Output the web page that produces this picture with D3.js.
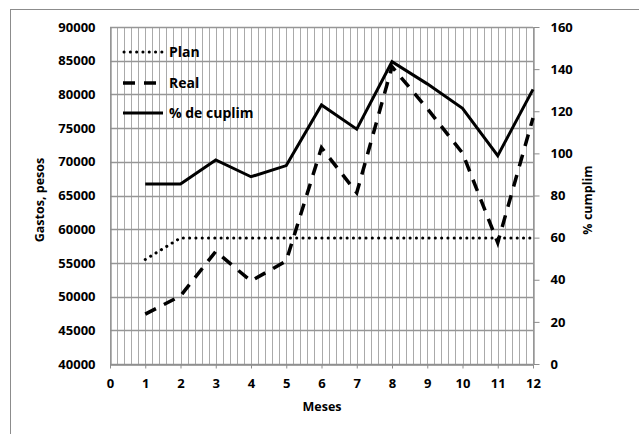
<!DOCTYPE html>
<html><head><meta charset="utf-8">
<script src="https://cdn.jsdelivr.net/npm/d3@7/dist/d3.min.js"></script>
<style>
html,body{margin:0;padding:0;background:#fff;}
svg text{font-family:"Open Sans",sans-serif;font-weight:700;fill:#000;}
</style></head>
<body><svg id="c" width="639" height="434"></svg>
<script>
const months = [1,2,3,4,5,6,7,8,9,10,11,12];
const plan = [55500,58700,58700,58700,58700,58700,58700,58700,58700,58700,58700,58700];
const real = [47400,50100,56700,52300,55300,72100,65400,84100,77900,71300,58000,76500];
const cumplim = [85.5,85.5,96.9,88.9,94.2,123.0,111.5,143.5,133.0,121.4,98.9,130.4];
const leftTicks = [40000,45000,50000,55000,60000,65000,70000,75000,80000,85000,90000];
const rightTicks = [0,20,40,60,80,100,120,140,160];
const xTicks = [0,1,2,3,4,5,6,7,8,9,10,11,12];
const legendNames = ["Plan","Real","% de cuplim"];

const svg = d3.select("#c");
const L=110, R=533, T=27, B=364;
const x = d3.scaleLinear().domain([0,12]).range([L,R]);
const yL = d3.scaleLinear().domain([40000,90000]).range([B,T]);
const yR = d3.scaleLinear().domain([0,160]).range([B,T]);

// outer border
svg.append("rect").attr("x",10.5).attr("y",9.5).attr("width",700).attr("height",500)
  .attr("fill","none").attr("stroke","#8c8c8c").attr("stroke-width",1);

// minor vertical gridlines
const minor = d3.range(0,12.0001,0.2);
svg.append("g").selectAll("line").data(minor).join("line")
  .attr("x1",d=>Math.round(x(d))+0.5).attr("x2",d=>Math.round(x(d))+0.5)
  .attr("y1",T).attr("y2",B).attr("stroke","#aaaaaa").attr("stroke-width",1);
// horizontal gridlines
svg.append("g").selectAll("line").data(leftTicks).join("line")
  .attr("x1",L).attr("x2",R)
  .attr("y1",d=>Math.round(yL(d))+0.5).attr("y2",d=>Math.round(yL(d))+0.5)
  .attr("stroke","#969696").attr("stroke-width",1.3);

// axes
const axL = d3.axisLeft(yL).tickValues(leftTicks).tickSize(0).tickPadding(15).tickFormat(d3.format("d"));
const gL = svg.append("g").attr("transform",`translate(${L+0.5},0)`).call(axL);
const axR = d3.axisRight(yR).tickValues(rightTicks).tickSize(6).tickSizeOuter(0).tickPadding(11).tickFormat(d3.format("d"));
const gR = svg.append("g").attr("transform",`translate(${R+0.5},0)`).call(axR);
const axB = d3.axisBottom(x).tickValues(xTicks).tickSize(4).tickSizeOuter(0).tickPadding(10).tickFormat(d3.format("d"));
const gB = svg.append("g").attr("transform",`translate(0,${B+0.5})`).call(axB);
[gL,gR,gB].forEach(g=>{
  g.selectAll(".domain").attr("stroke","#8c8c8c").attr("stroke-width",1.3);
  g.selectAll(".tick line").attr("stroke","#8c8c8c");
  g.selectAll("text").style("font-size","13px").style("font-family","'Open Sans',sans-serif").style("font-weight","700").attr("fill","#000");
});

// axis titles
svg.append("text").attr("x",322).attr("y",411).attr("text-anchor","middle").style("font-size","12.5px").text("Meses");
svg.append("text").attr("transform","translate(44,200) rotate(-90)").attr("text-anchor","middle").style("font-size","12.5px").text("Gastos, pesos");
svg.append("text").attr("transform","translate(592,200) rotate(-90)").attr("text-anchor","middle").style("font-size","12.5px").text("% cumplim");

// lines
const lp = d3.line().x((d,i)=>x(months[i])).y(d=>yL(d));
const lr = d3.line().x((d,i)=>x(months[i])).y(d=>yR(d));
svg.append("path").attr("d",lp(plan)).attr("fill","none").attr("stroke","#000")
  .attr("stroke-width",3).attr("stroke-dasharray","0.1 6.2").attr("stroke-linecap","round");
svg.append("path").attr("d",lp(real)).attr("fill","none").attr("stroke","#000")
  .attr("stroke-width",3.5).attr("stroke-dasharray","12 9");
svg.append("path").attr("d",lr(cumplim)).attr("fill","none").attr("stroke","#000")
  .attr("stroke-width",3).attr("stroke-linejoin","miter");

// legend
const styles = [
  {w:3, dash:"0.1 6.2", cap:"round"},
  {w:3.5, dash:"12 9", cap:"butt"},
  {w:3, dash:null, cap:"butt"}
];
const ly = [52,83,113];
const lg = svg.append("g");
legendNames.forEach((n,i)=>{
  const s = styles[i];
  const ln = lg.append("line").attr("x1",i==0?124:123).attr("x2",163).attr("y1",ly[i]).attr("y2",ly[i])
    .attr("stroke","#000").attr("stroke-width",s.w).attr("stroke-linecap",s.cap);
  if(s.dash) ln.attr("stroke-dasharray",s.dash);
  lg.append("text").attr("x",169).attr("y",ly[i]).attr("dy","0.35em").style("font-size","14px").text(n);
});
</script></body></html>
